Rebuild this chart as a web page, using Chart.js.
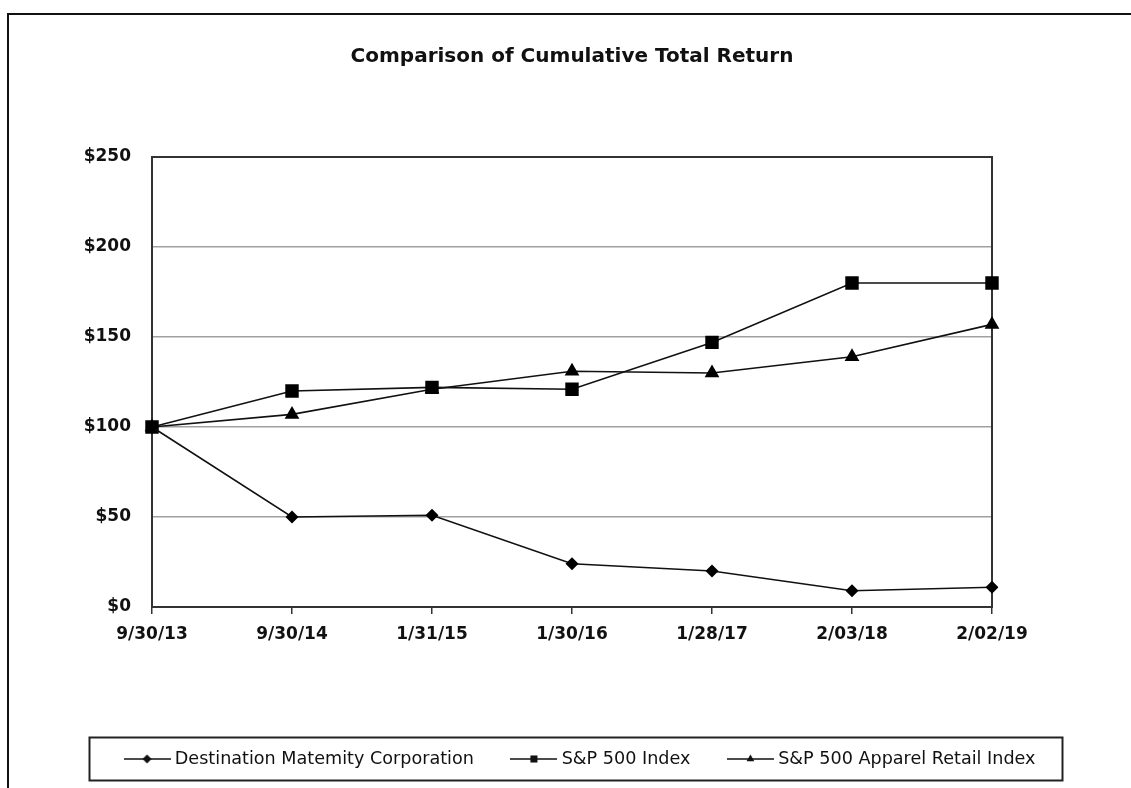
<!DOCTYPE html>
<html>
<head>
<meta charset="utf-8">
<title>Comparison of Cumulative Total Return</title>
<script src="https://cdn.jsdelivr.net/npm/chart.js@4.4.1/dist/chart.umd.min.js"></script>
<style>
  html, body { margin: 0; padding: 0; background: #fff; }
  #wrap { width: 1131px; height: 788px; }
</style>
</head>
<body>
<div id="wrap"><canvas id="chartRetorno" width="1131" height="788"></canvas></div>
<script>
// dados
const periodos = ['9/30/13', '9/30/14', '1/31/15', '1/30/16', '1/28/17', '2/03/18', '2/02/19'];
const destination = [100, 50, 51, 24, 20, 9, 11];
const sp500 = [100, 120, 122, 121, 147, 180, 180];
const apparel = [100, 107, 121, 131, 130, 139, 157];
const yTicks = [0, 50, 100, 150, 200, 250];
const nomesSeries = ['Destination Matemity Corporation', 'S&P 500 Index', 'S&P 500 Apparel Retail Index'];
const marcadores = ['rectRot', 'rect', 'triangle'];
const raios = [6.5, 9.5, 8.5];

const FONTE = "'DejaVu Sans', 'Liberation Sans', Arial, sans-serif";
const COR = '#111';

// amostra da legenda: linha com o marcador no meio
function amostraLegenda(estilo) {
  const c = document.createElement('canvas');
  c.width = 47; c.height = 16;
  const g = c.getContext('2d');
  g.strokeStyle = COR; g.lineWidth = 1.5;
  g.beginPath(); g.moveTo(0, 8); g.lineTo(47, 8); g.stroke();
  g.fillStyle = COR;
  Chart.helpers.drawPoint(g, { pointStyle: estilo, radius: estilo === 'rect' ? 5 : 4.5, borderWidth: 0 }, 23.5, 8);
  return c;
}

const moldura = {
  id: 'moldura',
  beforeDraw(chart) {
    const ctx = chart.ctx;
    ctx.save();
    ctx.fillStyle = '#fff';
    ctx.fillRect(0, 0, chart.width, chart.height);
    ctx.strokeStyle = COR; ctx.lineWidth = 2;
    ctx.beginPath(); ctx.moveTo(8, chart.height); ctx.lineTo(8, 14); ctx.lineTo(chart.width, 14); ctx.stroke();
    ctx.restore();
  },
  beforeDatasetsDraw(chart) {
    const { ctx, chartArea: a } = chart;
    ctx.save();
    ctx.strokeStyle = '#333'; ctx.lineWidth = 2;
    ctx.strokeRect(a.left, a.top, a.right - a.left, a.bottom - a.top);
    ctx.restore();
  },
  afterDraw(chart) {
    const hb = chart.legend.legendHitBoxes;
    if (!hb || !hb.length) return;
    const ctx = chart.ctx;
    const x0 = hb[0].left - 38.5;
    const x1 = hb[hb.length - 1].left + hb[hb.length - 1].width + 27;
    const yc = hb[0].top + hb[0].height / 2;
    ctx.save();
    ctx.strokeStyle = '#222'; ctx.lineWidth = 2;
    ctx.strokeRect(x0, yc - 21.5, x1 - x0, 43);
    ctx.restore();
  }
};

const series = [destination, sp500, apparel];

new Chart(document.getElementById('chartRetorno'), {
  type: 'line',
  data: {
    labels: periodos,
    datasets: series.map((d, i) => ({
      label: nomesSeries[i],
      data: d,
      borderColor: COR,
      borderWidth: 1.6,
      backgroundColor: '#000',
      pointStyle: marcadores[i],
      pointRadius: raios[i],
      pointBackgroundColor: '#000',
      pointBorderColor: '#000',
      pointBorderWidth: 0,
      tension: 0,
      fill: false
    }))
  },
  options: {
    responsive: false,
    animation: false,
    events: [],
    layout: { padding: { left: 50, right: 17.5, top: 0, bottom: 10.2 } },
    plugins: {
      title: {
        display: true,
        fullSize: false,
        text: 'Comparison of Cumulative Total Return',
        color: COR,
        font: { family: FONTE, size: 20, weight: 'bold' },
        padding: { top: 45, bottom: 88 }
      },
      legend: {
        position: 'bottom',
        labels: {
          color: COR,
          font: { family: FONTE, size: 17.6 },
          usePointStyle: true,
          pointStyleWidth: 38,
          padding: 41,
          generateLabels(chart) {
            const itens = Chart.defaults.plugins.legend.labels.generateLabels(chart);
            itens.forEach((it, i) => { it.pointStyle = amostraLegenda(marcadores[i]); });
            return itens;
          }
        }
      },
      tooltip: { enabled: false }
    },
    scales: {
      x: {
        offset: false,
        grid: { drawOnChartArea: false, drawTicks: true, tickLength: 7, color: '#333', lineWidth: 1.5 },
        border: { display: false },
        ticks: { color: COR, font: { family: FONTE, size: 17, weight: 'bold' }, padding: 10, maxRotation: 0 },
        afterFit(s) { s.height = 102.2; }
      },
      y: {
        min: 0,
        max: 250,
        grid: { color: '#a0a0a0', lineWidth: 1.5, drawTicks: false },
        border: { display: false },
        afterBuildTicks(s) { s.ticks = yTicks.map(v => ({ value: v })); },
        ticks: { color: COR, font: { family: FONTE, size: 17, weight: 'bold' }, padding: 21, callback: v => '$' + v },
        afterFit(s) { s.width = 102; }
      },
      yDir: {
        position: 'right',
        grid: { display: false },
        border: { display: false },
        ticks: { display: false },
        afterFit(s) { s.width = 121.5; }
      }
    }
  },
  plugins: [moldura]
});
</script>
</body>
</html>
